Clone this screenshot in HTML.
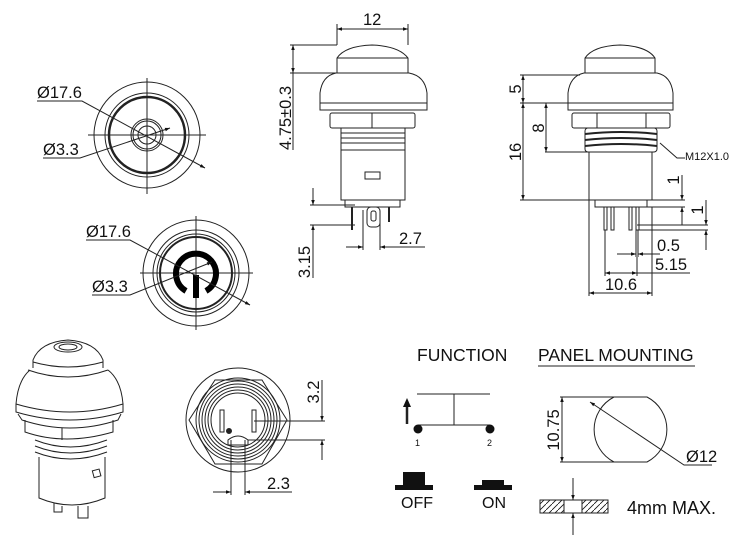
<!DOCTYPE html>
<html><head><meta charset="utf-8"><style>
html,body{margin:0;padding:0;background:#fff}
svg{display:block}
text{font-family:"Liberation Sans",Arial,sans-serif;fill:#111}
</style></head><body>
<svg width="750" height="545" viewBox="0 0 750 545" xmlns="http://www.w3.org/2000/svg">
<defs>
<marker id="a" viewBox="0 0 10 10" refX="10" refY="5" markerWidth="7" markerHeight="5" orient="auto-start-reverse" markerUnits="userSpaceOnUse"><path d="M0,1.5 L10,5 L0,8.5z" fill="#111"/></marker>
<pattern id="h" width="6" height="6" patternUnits="userSpaceOnUse"><path d="M0,6 L6,0" stroke="#111" stroke-width="0.8"/></pattern>
</defs>
<g fill="none" stroke="#222" stroke-width="1">
<circle cx="147" cy="135" r="53"/>
<circle cx="147" cy="135" r="42"/>
<circle cx="147" cy="135" r="38" stroke-width="2.5"/>
<circle cx="147" cy="135" r="16"/>
<circle cx="147" cy="135" r="14"/>
<circle cx="147" cy="135" r="9"/>
<line x1="88" y1="135" x2="206" y2="135"/><line x1="147" y1="78" x2="147" y2="194"/>
<polyline points="37,101 82,101 205,168" marker-end="url(#a)"/>
<polyline points="43,158 80,158 170,128" marker-end="url(#a)"/>
<circle cx="196" cy="273" r="53"/>
<circle cx="196" cy="273" r="43"/>
<circle cx="196" cy="273" r="39"/>
<circle cx="196" cy="273" r="36" stroke-width="2"/>
<line x1="140" y1="273" x2="253" y2="273"/><line x1="196" y1="216" x2="196" y2="330"/>
<path d="M186,291 A20,20 0 1 1 206,291" stroke="#000" stroke-width="6"/>
<line x1="196" y1="275" x2="196" y2="298" stroke="#000" stroke-width="6"/>
<polyline points="86,240 130,240 250,305" marker-end="url(#a)"/>
<polyline points="92,295 130,295 212,262" marker-end="url(#a)"/>
<path d="M337,73 L337,58 Q345,46 372,45 Q399,46 408,58 L408,73"/>
<line x1="337" y1="58" x2="408" y2="58"/>
<path d="M320,110 L320,93 Q322,76 336,73 L409,73 Q425,76 427,93 L427,110 Z"/>
<line x1="320" y1="103" x2="427" y2="103"/>
<rect x="330" y="113" width="85" height="15" rx="2"/>
<line x1="372" y1="113" x2="372" y2="128"/>
<rect x="341" y="128" width="64" height="22"/>
<line x1="341" y1="133" x2="405" y2="133"/><line x1="341" y1="138" x2="405" y2="138"/><line x1="341" y1="143" x2="405" y2="143"/>
<rect x="341" y="150" width="64" height="50"/>
<rect x="365" y="172" width="15" height="7"/>
<rect x="345" y="200" width="55" height="7"/>
<line x1="352" y1="207" x2="352" y2="230" stroke-width="2"/>
<line x1="389" y1="207" x2="389" y2="222" stroke-width="2"/>
<rect x="367" y="207" width="13" height="20" rx="4"/>
<rect x="371" y="211" width="5" height="10" rx="2"/>
<line x1="337" y1="45" x2="337" y2="24"/><line x1="408" y1="45" x2="408" y2="24"/>
<line x1="337" y1="29" x2="408" y2="29" marker-start="url(#a)" marker-end="url(#a)"/>
<line x1="290" y1="45" x2="337" y2="45"/><line x1="290" y1="73" x2="337" y2="73"/>
<line x1="293" y1="45" x2="293" y2="73" marker-start="url(#a)" marker-end="url(#a)"/>
<line x1="293" y1="73" x2="293" y2="150"/>
<line x1="310" y1="205" x2="355" y2="205"/><line x1="310" y1="225" x2="355" y2="225"/>
<line x1="313" y1="188" x2="313" y2="205" marker-end="url(#a)"/>
<line x1="313" y1="278" x2="313" y2="225" marker-end="url(#a)"/>
<line x1="363" y1="210" x2="363" y2="250"/><line x1="380" y1="222" x2="380" y2="250"/>
<line x1="346" y1="247" x2="363" y2="247" marker-end="url(#a)"/>
<line x1="425" y1="247" x2="380" y2="247" marker-end="url(#a)"/>
<path d="M585,73 L585,58 Q593,46 620,45 Q647,46 655,58 L655,73"/>
<line x1="585" y1="58" x2="655" y2="58"/>
<path d="M568,110 L568,93 Q570,76 584,73 L657,73 Q671,76 673,93 L673,110 Z"/>
<line x1="568" y1="103" x2="673" y2="103"/>
<rect x="572" y="113" width="98" height="15" rx="2"/>
<line x1="597" y1="113" x2="597" y2="128"/><line x1="646" y1="113" x2="646" y2="128"/>
<rect x="585" y="128" width="72" height="24" rx="3"/>
<path d="M585,134 Q621,130 657,134 M585,140 Q621,136 657,140 M585,146 Q621,142 657,146" stroke-width="2"/>
<rect x="589" y="152" width="63" height="48"/>
<rect x="595" y="200" width="52" height="7"/>
<rect x="604" y="207" width="3" height="23"/><rect x="611" y="207" width="3" height="23"/>
<rect x="629" y="207" width="3" height="23"/><rect x="636" y="207" width="3" height="23"/>
<line x1="520" y1="75" x2="580" y2="75"/><line x1="520" y1="103" x2="595" y2="103"/>
<line x1="523" y1="75" x2="523" y2="103" marker-start="url(#a)" marker-end="url(#a)"/>
<line x1="523" y1="103" x2="523" y2="200" marker-start="url(#a)" marker-end="url(#a)"/>
<line x1="520" y1="200" x2="590" y2="200"/>
<line x1="546" y1="103" x2="546" y2="152" marker-start="url(#a)" marker-end="url(#a)"/>
<line x1="545" y1="152" x2="590" y2="152"/>
<polyline points="660,143 677,158 685,158"/>
<line x1="647" y1="200" x2="685" y2="200"/><line x1="640" y1="207" x2="685" y2="207"/>
<line x1="682" y1="175" x2="682" y2="200" marker-end="url(#a)"/>
<line x1="682" y1="225" x2="682" y2="207" marker-end="url(#a)"/>
<line x1="637" y1="225" x2="708" y2="225"/><line x1="637" y1="230" x2="708" y2="230"/>
<line x1="706" y1="200" x2="706" y2="225" marker-end="url(#a)"/>
<line x1="706" y1="250" x2="706" y2="230" marker-end="url(#a)"/>
<line x1="636" y1="230" x2="636" y2="257"/><line x1="638" y1="230" x2="638" y2="257"/>
<line x1="617" y1="254" x2="636" y2="254" marker-end="url(#a)"/>
<line x1="660" y1="254" x2="638" y2="254" marker-end="url(#a)"/>
<line x1="605" y1="230" x2="605" y2="276"/><line x1="637" y1="257" x2="637" y2="276"/>
<line x1="605" y1="273" x2="637" y2="273" marker-start="url(#a)" marker-end="url(#a)"/>
<line x1="637" y1="273" x2="690" y2="273"/>
<line x1="589" y1="200" x2="589" y2="296"/><line x1="652" y1="207" x2="652" y2="296"/>
<line x1="589" y1="293" x2="652" y2="293" marker-start="url(#a)" marker-end="url(#a)"/>
<!-- 3D view -->
<path d="M33,368 L33,360 Q40,342 68,340 Q96,342 103,360 L103,368"/>
<ellipse cx="68" cy="347" rx="14" ry="5"/><ellipse cx="68" cy="347" rx="9" ry="3"/>
<path d="M33,362 Q68,372 103,362"/>
<path d="M28,370 Q68,384 108,370"/>
<path d="M16,404 Q18,380 30,370 M123,404 Q121,380 108,370"/>
<path d="M16,404 L16,412 Q70,428 123,412 L123,404 Q70,420 16,404"/>
<path d="M18,414 L22,420 Q70,436 118,420 L121,414"/>
<path d="M25,420 L25,432 Q65,446 113,432 L113,420"/>
<line x1="62" y1="428" x2="62" y2="440"/>
<path d="M35,440 Q70,454 107,440 M35,446 Q70,460 107,446 M35,452 Q70,466 107,452"/>
<path d="M39,457 L39,498 Q72,512 105,498 L105,457"/>
<rect x="93" y="470" width="7" height="7" transform="rotate(-15 96 473)"/>
<path d="M54,503 L54,512 L62,512 L62,506 M78,506 L78,518 L88,518 L88,506"/>
<circle cx="238" cy="420" r="52"/>
<polygon points="189,420 215,380 262,380 287,420 262,464 215,464"/>
<circle cx="238" cy="420" r="42"/><circle cx="238" cy="420" r="39"/><circle cx="238" cy="420" r="36"/>
<circle cx="238" cy="420" r="33"/><circle cx="238" cy="420" r="30"/><circle cx="238" cy="420" r="27"/>
<rect x="220" y="410" width="4" height="22"/><rect x="252" y="410" width="4" height="22"/>
<path d="M228,445 L228,440 Q238,432 248,440 L248,445 Z"/>
<circle cx="229" cy="431" r="2.5" fill="#222"/>
<line x1="254" y1="421" x2="325" y2="421"/><line x1="248" y1="440" x2="325" y2="440"/>
<line x1="322" y1="380" x2="322" y2="421" marker-end="url(#a)"/>
<line x1="322" y1="460" x2="322" y2="440" marker-end="url(#a)"/>
<line x1="231" y1="440" x2="231" y2="495"/><line x1="245" y1="440" x2="245" y2="495"/>
<line x1="213" y1="492" x2="231" y2="492" marker-end="url(#a)"/>
<line x1="292" y1="492" x2="245" y2="492" marker-end="url(#a)"/>
<line x1="417" y1="394" x2="490" y2="394"/>
<line x1="454" y1="394" x2="454" y2="425"/>
<line x1="418" y1="425" x2="490" y2="425"/>
<line x1="407" y1="424" x2="407" y2="402" stroke-width="2.5"/>
<line x1="538" y1="366" x2="695" y2="366"/>
<path d="M614,397 L647,397 A36.5,36.5 0 0 1 647,462 L614,462 A36.5,36.5 0 0 1 614,397 Z"/>
<line x1="560" y1="397" x2="614" y2="397"/><line x1="560" y1="462" x2="614" y2="462"/>
<line x1="562" y1="397" x2="562" y2="462" marker-start="url(#a)" marker-end="url(#a)"/>
<polyline points="590,402 684,465 712,465" marker-start="url(#a)"/>
<rect x="540" y="500" width="24" height="13" fill="url(#h)"/>
<rect x="582" y="500" width="26" height="13" fill="url(#h)"/>
<rect x="540" y="500" width="68" height="13"/>
<line x1="573" y1="478" x2="573" y2="500" marker-end="url(#a)"/>
<line x1="573" y1="535" x2="573" y2="513" marker-end="url(#a)"/>
</g>
<polygon points="407,398 403,407 411,407" fill="#111"/>
<circle cx="418" cy="429" r="4.5" fill="#111"/><circle cx="490" cy="429" r="4.5" fill="#111"/>
<rect x="395" y="485" width="38" height="5" fill="#111"/><rect x="403" y="472" width="22" height="13" fill="#111"/>
<rect x="474" y="485" width="38" height="5" fill="#111"/><rect x="482" y="480" width="22" height="5" fill="#111"/>
<g font-size="16.5">
<text x="37" y="98">Ø17.6</text>
<text x="43" y="155">Ø3.3</text>
<text x="86" y="237">Ø17.6</text>
<text x="92" y="292">Ø3.3</text>
<text x="363" y="25">12</text>
<text transform="translate(291,118) rotate(-90)" text-anchor="middle">4.75±0.3</text>
<text transform="translate(310,262) rotate(-90)" text-anchor="middle">3.15</text>
<text x="399" y="244">2.7</text>
<text transform="translate(521,89) rotate(-90)" text-anchor="middle">5</text>
<text transform="translate(521,152) rotate(-90)" text-anchor="middle">16</text>
<text transform="translate(544,128) rotate(-90)" text-anchor="middle">8</text>
<text transform="translate(679,180) rotate(-90)" text-anchor="middle">1</text>
<text transform="translate(703,210) rotate(-90)" text-anchor="middle">1</text>
<text x="657" y="251">0.5</text>
<text x="655" y="270">5.15</text>
<text x="605" y="290">10.6</text>
<text transform="translate(319,392) rotate(-90)" text-anchor="middle">3.2</text>
<text x="267" y="489">2.3</text>
<text transform="translate(559,430) rotate(-90)" text-anchor="middle">10.75</text>
<text x="686" y="462">Ø12</text>
</g>
<text x="417" y="361" font-size="17.5">FUNCTION</text>
<text x="538" y="361" font-size="17.5">PANEL MOUNTING</text>
<text x="627" y="514" font-size="18">4mm MAX.</text>
<text x="401" y="508" font-size="16">OFF</text>
<text x="482" y="508" font-size="16">ON</text>
<text x="685" y="160" font-size="11">M12X1.0</text>
<text x="415" y="446" font-size="9">1</text>
<text x="487" y="446" font-size="9">2</text>
</svg>
</body></html>
